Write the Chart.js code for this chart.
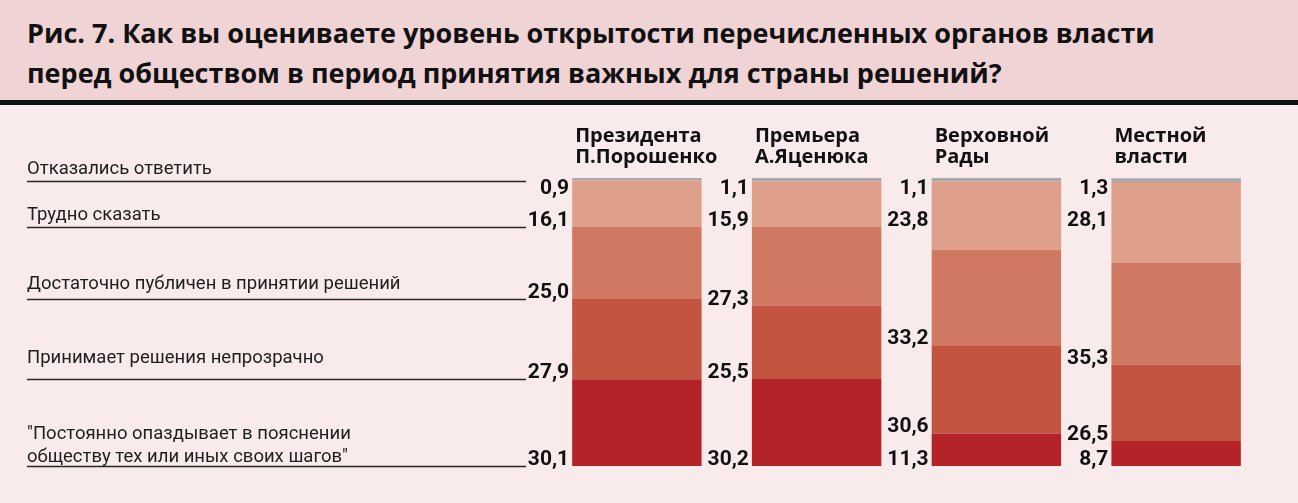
<!DOCTYPE html>
<html>
<head>
<meta charset="utf-8">
<script src="https://cdn.jsdelivr.net/npm/chart.js@4.4.1/dist/chart.umd.min.js"></script>
<style>
    body { margin: 0; background: #f9ebeb; width: 1298px; height: 503px; overflow: hidden; position: relative; }
    #header {
        position: absolute; left: 0; top: 0; width: 1298px; height: 100px;
        background: #f0d3d4; border-bottom: 5px solid #111;
    }
    #header h1 {
        margin: 0; padding: 13px 0 0 27px;
        font-family: "Open Sans", sans-serif; font-weight: 700; font-size: 27px; line-height: 40px;
        color: #111;
    }
    #chartBox { position: absolute; left: 0; top: 105px; width: 1298px; height: 398px; }
</style>
</head>
<body>
<div id="header">
    <h1>Рис. 7. Как вы оцениваете уровень открытости перечисленных органов власти<br>перед обществом в период принятия важных для страны решений?</h1>
</div>
<div id="chartBox"><canvas id="openChart"></canvas></div>
<script>
// bodies of power (columns)
const bodies = ['Президента П.Порошенко', 'Премьера А.Яценюка', 'Верховной Рады', 'Местной власти'];
const bodyLines = [['Президента', 'П.Порошенко'], ['Премьера', 'А.Яценюка'], ['Верховной', 'Рады'], ['Местной', 'власти']];

// answers, top of the bar first
const answers = [
    ['Отказались ответить'],
    ['Трудно сказать'],
    ['Достаточно публичен в принятии решений'],
    ['Принимает решения непрозрачно'],
    ['"Постоянно опаздывает в пояснении', 'обществу тех или иных своих шагов"']
];

// percent, one array per answer, in the order of bodies
const refused      = [0.9, 1.1, 1.1, 1.3];
const hardToSay    = [16.1, 15.9, 23.8, 28.1];
const publicEnough = [25.0, 27.3, 33.2, 35.3];
const notOpen      = [27.9, 25.5, 30.6, 26.5];
const alwaysLate   = [30.1, 30.2, 11.3, 8.7];

const answerValues = [refused, hardToSay, publicEnough, notOpen, alwaysLate];
const answerColors = ['#a7a9ac', '#dea08b', '#cf7862', '#c35441', '#b42327'];
// how far each answer text sits above its rule (px)
const answerLift = [8, 8, 11, 17, 5];

// stack from the bottom up, so the list is reversed
const datasets = answerValues.map((vals, i) => ({
    label: answers[i].join(' '),
    data: vals,
    backgroundColor: answerColors[i],
    borderWidth: 0,
    barPercentage: 0.72,
    categoryPercentage: 1.0,
    row: i
})).reverse();

function fmt(v) {
    return v.toFixed(1).replace('.', ',');
}

const labelsPlugin = {
    id: 'labelsPlugin',
    afterDatasetsDraw(chart) {
        const ctx = chart.ctx;
        // element for answer row r and column c
        const bar = (r, c) => {
            const dsIndex = chart.data.datasets.findIndex(d => d.row === r);
            return chart.getDatasetMeta(dsIndex).data[c].getProps(['x', 'y', 'base', 'width'], true);
        };

        ctx.save();

        // left answer labels with rules, following the first column
        for (let r = 0; r < answers.length; r++) {
            const lineY = Math.round(bar(r, 0).base) + 0.5;
            ctx.strokeStyle = '#2a2424';
            ctx.lineWidth = 1.6;
            ctx.beginPath();
            ctx.moveTo(27, lineY);
            ctx.lineTo(526, lineY);
            ctx.stroke();

            ctx.fillStyle = '#1e1e1e';
            ctx.font = '400 18.5px Roboto';
            ctx.textAlign = 'left';
            ctx.textBaseline = 'alphabetic';
            const lines = answers[r];
            lines.forEach((t, k) => {
                ctx.fillText(t, 27, lineY - answerLift[r] - (lines.length - 1 - k) * 23);
            });
        }

        // column headings and value labels
        for (let c = 0; c < bodies.length; c++) {
            const top = bar(0, c);
            const left = top.x - top.width / 2;

            ctx.fillStyle = '#111';
            ctx.font = '700 20px "Open Sans"';
            ctx.textAlign = 'left';
            ctx.textBaseline = 'alphabetic';
            const hl = bodyLines[c];
            hl.forEach((t, k) => {
                ctx.fillText(t, left + 3, top.y - 15 - (hl.length - 1 - k) * 21);
            });

            ctx.font = '700 21px Roboto';
            ctx.textAlign = 'right';
            for (let r = 0; r < answers.length; r++) {
                const el = bar(r, c);
                let y;
                if (r === 0) {
                    ctx.textBaseline = 'top';
                    y = el.y;
                } else {
                    ctx.textBaseline = 'alphabetic';
                    y = el.base;
                    if (r === 1) y = Math.min(y, bar(1, 0).base);
                    y -= 1;
                }
                ctx.fillText(fmt(answerValues[r][c]), left - 3, y);
            }
        }
        ctx.restore();
    }
};

new Chart(document.getElementById('openChart'), {
    type: 'bar',
    data: { labels: bodies, datasets: datasets },
    options: {
        responsive: true,
        maintainAspectRatio: false,
        animation: false,
        layout: { padding: { top: 73, bottom: 37, left: 547, right: 32 } },
        plugins: { legend: { display: false }, tooltip: { enabled: false } },
        scales: {
            x: { stacked: true, display: false },
            y: { stacked: true, display: false, min: 0, max: 100 }
        }
    },
    plugins: [labelsPlugin]
});
</script>
</body>
</html>
